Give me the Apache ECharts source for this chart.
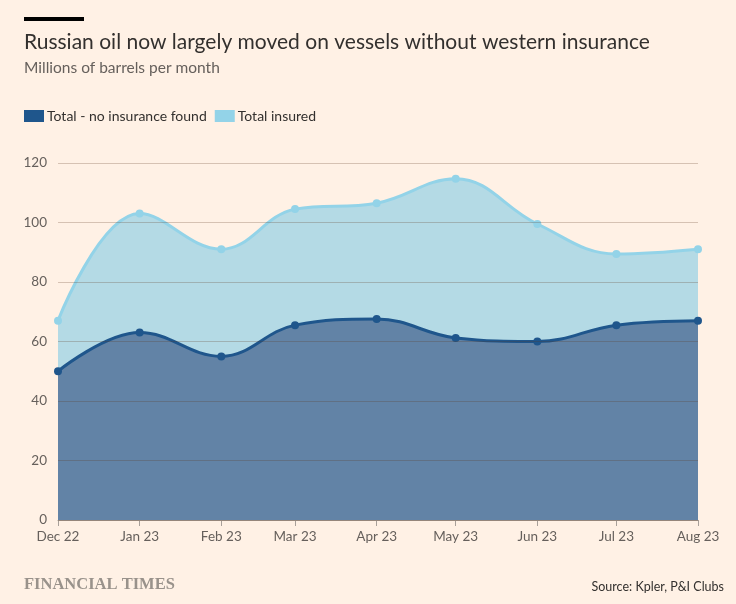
<!DOCTYPE html>
<html><head><meta charset="utf-8">
<script src="https://cdn.jsdelivr.net/npm/echarts@6/dist/echarts.min.js"></script>
<style>html,body{margin:0;padding:0;background:#fff1e5;}#c{width:736px;height:604px;}</style>
</head><body><div id="c"></div>
<script>
const months = ['2022-12-01','2023-01-01','2023-02-01','2023-03-01','2023-04-01','2023-05-01','2023-06-01','2023-07-01','2023-08-01'];
const noInsurance = [50, 63, 55, 65.5, 67.6, 61.2, 60, 65.5, 67];
const totalInsured = [67, 103, 91, 104.5, 106.5, 114.7, 99.5, 89.4, 91];
const yTicks = [0, 20, 40, 60, 80, 100, 120];
const monthNames = ['Jan','Feb','Mar','Apr','May','Jun','Jul','Aug','Sep','Oct','Nov','Dec'];

const font = 'Lato, "Open Sans", sans-serif';
const chart = echarts.init(document.getElementById('c'), null, {renderer:'canvas'});
chart.setOption({
  backgroundColor: '#fff1e5',
  animation: false,
  title: [
    {text: 'Russian oil now largely moved on vessels without western insurance', left: 24, top: 32, padding: 0,
     textStyle: {fontFamily: font, fontSize: 21, fontWeight: 'normal', color: '#33302e'}},
    {text: 'Millions of barrels per month', left: 24, top: 60, padding: 0,
     textStyle: {fontFamily: font, fontSize: 15.5, fontWeight: 'normal', color: '#66605c'}},
    {text: 'FINANCIAL TIMES', left: 24, top: 576, padding: 0,
     textStyle: {fontFamily: '"Liberation Serif", serif', fontSize: 16.5, fontWeight: 'bold', color: '#99928b'}},
    {text: 'Source: Kpler, P&I Clubs', right: 12, top: 580, padding: 0,
     textStyle: {fontFamily: font, fontSize: 12.5, fontWeight: 'normal', color: '#33302e'}}
  ],
  graphic: [{type: 'rect', left: 24, top: 17, shape: {width: 60, height: 4}, style: {fill: '#000'}}],
  legend: {
    left: 24, top: 109, itemWidth: 20, itemHeight: 12, itemGap: 8, padding: 0,
    icon: 'rect',
    data: ['Total - no insurance found', 'Total insured'],
    textStyle: {fontFamily: font, fontSize: 14, color: '#33302e', padding: [0,0,0,-2]}
  },
  grid: {left: 58, right: 38, top: 163, bottom: 84},
  xAxis: {
    type: 'time',
    min: months[0], max: months[months.length-1],
    splitNumber: 8,
    minInterval: 28*86400000,
    maxInterval: 31*86400000,
    axisLine: {show: true, lineStyle: {color: '#a8a09a'}},
    axisTick: {show: true, length: 6, lineStyle: {color: '#a8a09a'}},
    splitLine: {show: false},
    axisLabel: {
      fontFamily: font, fontSize: 13.5, color: '#66605c', margin: 10,
      showMinLabel: true, showMaxLabel: true,
      formatter: function (v) { const d = new Date(v); return monthNames[d.getMonth()] + ' ' + String(d.getFullYear()).slice(2); }
    }
  },
  yAxis: {
    type: 'value', min: yTicks[0], max: yTicks[yTicks.length-1], interval: 20, z: 10,
    axisLine: {show: false}, axisTick: {show: false},
    splitLine: {lineStyle: {color: 'rgba(90,55,30,0.25)', width: 1}},
    axisLabel: {fontFamily: font, fontSize: 13.5, color: '#66605c', margin: 11}
  },
  series: [
    {
      name: 'Total insured', type: 'line', smooth: 0.4,
      data: months.map((m, i) => [m, totalInsured[i]]),
      symbol: 'circle', symbolSize: 8,
      itemStyle: {color: '#93d3e8'},
      lineStyle: {color: '#93d3e8', width: 3},
      areaStyle: {color: '#b4dae5', opacity: 1}
    },
    {
      name: 'Total - no insurance found', type: 'line', smooth: 0.4,
      data: months.map((m, i) => [m, noInsurance[i]]),
      symbol: 'circle', symbolSize: 8,
      itemStyle: {color: '#1f568c'},
      lineStyle: {color: '#1f568c', width: 3},
      areaStyle: {color: '#6283a6', opacity: 1}
    }
  ]
});
</script></body></html>
